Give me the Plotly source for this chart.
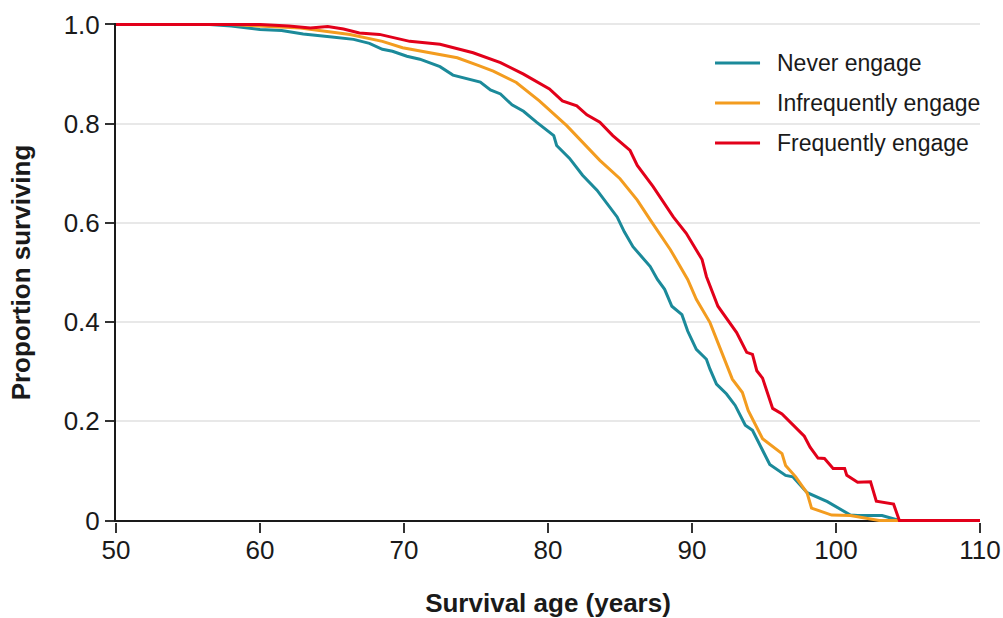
import plotly.graph_objects as go

# Survival curves by engagement level (age in years, proportion surviving)
never_age = [50, 56.5, 58, 60, 61.5, 63, 65, 66.5, 67.6, 68.5, 69.2, 70.2, 71.1, 72.5,
             73.4, 75.3, 76.0, 76.7, 77.5, 78.3, 79.2, 80.4, 80.6, 81.5, 82.4, 83.4,
             84.8, 85.3, 85.9, 87.1, 87.6, 88.1, 88.6, 89.3, 89.7, 90.3, 91.0, 91.25,
             91.7, 92.4, 93.0, 93.7, 94.2, 94.7, 95.4, 96.5, 97.0, 98.0, 99.4, 101.0,
             101.5, 103.2, 104.4, 110]
never_surv = [1.0, 1.0, 0.997, 0.99, 0.988, 0.981, 0.975, 0.970, 0.962, 0.950, 0.946,
              0.936, 0.930, 0.915, 0.898, 0.884, 0.868, 0.860, 0.838, 0.825, 0.803,
              0.776, 0.756, 0.730, 0.696, 0.666, 0.612, 0.582, 0.552, 0.512, 0.486,
              0.466, 0.432, 0.415, 0.382, 0.345, 0.325, 0.305, 0.275, 0.255, 0.232,
              0.192, 0.182, 0.152, 0.113, 0.091, 0.088, 0.056, 0.038, 0.011, 0.010,
              0.010, 0.0, 0.0]

infreq_age = [50, 58, 59.3, 62.8, 66.25, 68.5, 69.9, 71.8, 73.7, 75.1, 76.2, 77.8, 79.4,
              81.3, 83.6, 85.0, 86.2, 87.1, 88.5, 89.7, 90.3, 91.25, 92.2, 92.8, 93.5,
              93.9, 94.9, 96.25, 96.5, 97.2, 98.0, 98.3, 99.7, 101.0, 103.0, 110]
infreq_surv = [1.0, 1.0, 0.998, 0.993, 0.980, 0.966, 0.953, 0.943, 0.933, 0.918, 0.906,
               0.883, 0.846, 0.796, 0.726, 0.689, 0.646, 0.606, 0.546, 0.486, 0.446,
               0.399, 0.329, 0.285, 0.258, 0.222, 0.165, 0.135, 0.111, 0.088, 0.055,
               0.025, 0.011, 0.010, 0.0, 0.0]

freq_age = [50, 60, 62, 63.5, 64.7, 65.8, 66.9, 68.3, 70.4, 72.5, 74.8, 76.7, 78.3, 80.1,
            81.0, 82.0, 82.7, 83.6, 84.5, 85.7, 86.2, 87.3, 88.7, 89.6, 90.7, 91.0, 91.8,
            93.1, 93.8, 94.2, 94.5, 94.9, 95.6, 96.25, 97.8, 98.2, 98.75, 99.2, 99.8,
            100.6, 100.75, 101.5, 102.4, 102.8, 104.0, 104.4, 110]
freq_surv = [1.0, 1.0, 0.997, 0.993, 0.996, 0.991, 0.983, 0.980, 0.966, 0.960, 0.943,
             0.923, 0.900, 0.870, 0.846, 0.836, 0.818, 0.803, 0.776, 0.746, 0.716, 0.673,
             0.612, 0.579, 0.526, 0.492, 0.432, 0.379, 0.339, 0.335, 0.302, 0.287, 0.226,
             0.215, 0.170, 0.148, 0.126, 0.125, 0.105, 0.105, 0.091, 0.077, 0.078, 0.039,
             0.033, 0.0, 0.0]

series_names = ["Never engage", "Infrequently engage", "Frequently engage"]
series_colors = ["#1b8a9a", "#f39c1f", "#e2001a"]

x_ticks = [50, 60, 70, 80, 90, 100, 110]
y_ticks = [0, 0.2, 0.4, 0.6, 0.8, 1.0]
y_tick_labels = ["0", "0.2", "0.4", "0.6", "0.8", "1.0"]

FONT = "Liberation Sans, Arial, Helvetica, sans-serif"
TEXT = "#1a1a1a"

fig = go.Figure()
for name, xs, ys, col in zip(series_names,
                             [never_age, infreq_age, freq_age],
                             [never_surv, infreq_surv, freq_surv],
                             series_colors):
    fig.add_trace(go.Scatter(x=xs, y=ys, mode="lines", name=name,
                             line=dict(color=col, width=3), showlegend=False))

# Legend drawn as line swatches with labels in the upper right
legend_y = [0.9198, 0.8397, 0.7595]
for name, col, ly in zip(series_names, series_colors, legend_y):
    fig.add_shape(type="line", xref="paper", yref="paper",
                  x0=0.6933, x1=0.7454, y0=ly, y1=ly,
                  line=dict(color=col, width=3))
    fig.add_annotation(xref="paper", yref="paper", x=0.763, y=ly, text=name,
                       showarrow=False, xanchor="left", yanchor="middle",
                       font=dict(family=FONT, size=23, color=TEXT))

fig.update_layout(
    width=1003, height=618,
    margin=dict(l=116, r=23, t=23, b=96),
    paper_bgcolor="white", plot_bgcolor="white",
    font=dict(family=FONT, size=26, color=TEXT),
    showlegend=False,
)
fig.update_xaxes(
    range=[50, 110], tickvals=x_ticks, showgrid=False, zeroline=False,
    showline=False, ticks="outside", ticklen=10, tickwidth=2, tickcolor="#333",
    ticklabelstandoff=-5,
    tickfont=dict(family=FONT, size=26, color=TEXT), automargin=False,
    title=dict(text="Survival age (years)", standoff=30,
               font=dict(family=FONT, size=26, color=TEXT, weight="bold")),
)
fig.update_yaxes(
    range=[-0.003, 1.003], tickvals=y_ticks, ticktext=y_tick_labels,
    showgrid=True, gridcolor="#e8e8e8", gridwidth=2,
    zeroline=True, zerolinecolor=TEXT, zerolinewidth=2,
    showline=True, linecolor=TEXT, linewidth=2,
    ticks="outside", ticklen=9, tickwidth=2, tickcolor="#333",
    tickfont=dict(family=FONT, size=26, color=TEXT), automargin=False,
    title=dict(text="Proportion surviving", standoff=26,
               font=dict(family=FONT, size=26, color=TEXT, weight="bold")),
)

fig.write_html("out.html")
